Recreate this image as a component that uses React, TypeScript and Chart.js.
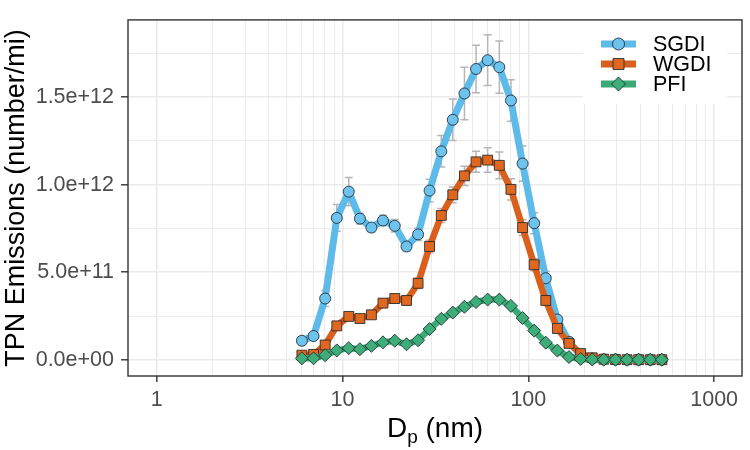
import React, { useEffect, useRef } from 'react';
import { Chart, registerables } from 'chart.js';

Chart.register(...registerables);

// Particle diameter bins (nm)
const diameters = [6.04, 6.98, 8.06, 9.31, 10.8, 12.4, 14.3, 16.5, 19.1, 22.1, 25.5, 29.4, 34.0, 39.2, 45.3, 52.3, 60.4, 69.8, 80.6, 93.1, 107.5, 124.1, 143.3, 165.5, 191.1, 220.7, 254.8, 294.3, 339.8, 392.4, 453.2, 523.3];

const sgdi = [1.09e11, 1.36e11, 3.5e11, 8.1e11, 9.6e11, 8.06e11, 7.55e11, 7.95e11, 7.65e11, 6.47e11, 7.16e11, 9.66e11, 1.19e12, 1.37e12, 1.52e12, 1.66e12, 1.71e12, 1.67e12, 1.48e12, 1.12e12, 7.8e11, 4.66e11, 2.3e11, 1.03e11, 2.6e10, 8e9, 3e9, 2e9, 1e9, 1e9, 1e9, 1e9];
const sgdiErr = [1.5e10, 1.5e10, 4.5e10, 7.6e10, 8e10, 3e10, 2.5e10, 3e10, 3.6e10, 2.5e10, 3.5e10, 6.5e10, 9e10, 1.18e11, 1.5e11, 1.36e11, 1.45e11, 1.49e11, 1.18e11, 1e11, 6e10, 4e10, 2e10, 1e10, 5e9, 0, 0, 0, 0, 0, 0, 0];

const wgdi = [2.7e10, 3.1e10, 8.5e10, 1.94e11, 2.48e11, 2.36e11, 2.57e11, 3.24e11, 3.5e11, 3.39e11, 4.37e11, 6.47e11, 8.24e11, 9.42e11, 1.05e12, 1.13e12, 1.14e12, 1.11e12, 9.73e11, 7.55e11, 5.43e11, 3.39e11, 1.79e11, 9.4e10, 3.6e10, 1.2e10, 4e9, 2e9, 1e9, 1e9, 1e9, 1e9];
const wgdiErr = [1e10, 1e10, 1.5e10, 2e10, 2e10, 2e10, 2e10, 2.5e10, 2.5e10, 2.5e10, 3e10, 3.5e10, 4e10, 4.5e10, 5.5e10, 6e10, 7e10, 7.6e10, 6e10, 4.5e10, 3.5e10, 2.5e10, 1.5e10, 1e10, 5e9, 0, 0, 0, 0, 0, 0, 0];

const pfi = [9e9, 9e9, 2.7e10, 5.4e10, 6.7e10, 6.1e10, 8e10, 1.0e11, 1.09e11, 8.9e10, 1.12e11, 1.76e11, 2.34e11, 2.7e11, 3.03e11, 3.3e11, 3.44e11, 3.44e11, 3.08e11, 2.39e11, 1.67e11, 9.8e10, 5.3e10, 1.6e10, 5e9, 2e9, 1e9, 1e9, 1e9, 1e9, 1e9, 1e9];

const seriesNames = ['SGDI', 'WGDI', 'PFI'];

// Axis ticks
const xTickValues = [1, 2, 3, 4, 5, 6, 7, 8, 9, 10, 20, 30, 40, 50, 60, 70, 80, 90, 100, 200, 300, 400, 500, 600, 700, 800, 900, 1000];
const yTickValues = [0, 2.5e11, 5e11, 7.5e11, 1e12, 1.25e12, 1.5e12, 1.75e12];

const xTitleMain = 'D';
const xTitleSub = 'p';
const xTitleRest = ' (nm)';
const yTitle = 'TPN Emissions (number/mi)';

const FONT = '"Liberation Sans", Arial, Helvetica, sans-serif';
const COLORS = {
  sgdi: '#5EBAE9',
  sgdiPt: '#6CC3EE',
  wgdi: '#DA5F1C',
  wgdiPt: '#E0671F',
  pfi: '#3BAA77',
  pfiPt: '#3DAE79',
  ptBorder: 'rgba(35,40,45,0.85)',
};

const isPow10 = (v: number) => {
  const l = Math.log10(v);
  return Math.abs(l - Math.round(l)) < 1e-9;
};
const isYMajor = (v: number) => Math.abs(v / 5e11 - Math.round(v / 5e11)) < 1e-9;
const fmtSci = (v: number) => {
  if (v === 0) return '0.0e+00';
  const e = Math.floor(Math.log10(v) + 1e-12);
  const m = v / Math.pow(10, e);
  return m.toFixed(1) + 'e+' + String(e).padStart(2, '0');
};

const errorBarPlugin = {
  id: 'errorBars',
  beforeDatasetsDraw(chart: any) {
    const { ctx, chartArea, scales } = chart;
    const x = scales.x;
    const y = scales.y;
    ctx.save();
    ctx.beginPath();
    ctx.rect(chartArea.left, chartArea.top, chartArea.right - chartArea.left, chartArea.bottom - chartArea.top);
    ctx.clip();
    ctx.strokeStyle = '#B5B5B5';
    ctx.lineWidth = 1.5;
    const groups: [number[], number[]][] = [[sgdi, sgdiErr], [wgdi, wgdiErr]];
    groups.forEach(([vals, errs]) => {
      vals.forEach((v, i) => {
        const e = errs[i];
        if (!e) return;
        const px = x.getPixelForValue(diameters[i]);
        const t = y.getPixelForValue(v + e);
        const b = y.getPixelForValue(v - e);
        ctx.beginPath();
        ctx.moveTo(px, t);
        ctx.lineTo(px, b);
        ctx.moveTo(px - 4, t);
        ctx.lineTo(px + 4, t);
        ctx.moveTo(px - 4, b);
        ctx.lineTo(px + 4, b);
        ctx.stroke();
      });
    });
    ctx.restore();
  },
};

const drawMarker = (ctx: CanvasRenderingContext2D, kind: string, cx: number, cy: number, fill: string) => {
  ctx.beginPath();
  if (kind === 'circle') {
    ctx.arc(cx, cy, 6, 0, Math.PI * 2);
  } else if (kind === 'rect') {
    ctx.rect(cx - 5.5, cy - 5.5, 11, 11);
  } else {
    ctx.moveTo(cx, cy - 7);
    ctx.lineTo(cx + 7, cy);
    ctx.lineTo(cx, cy + 7);
    ctx.lineTo(cx - 7, cy);
    ctx.closePath();
  }
  ctx.fillStyle = fill;
  ctx.fill();
  ctx.lineWidth = 1;
  ctx.strokeStyle = COLORS.ptBorder;
  ctx.stroke();
};

const legendPlugin = {
  id: 'insideLegend',
  afterDatasetsDraw(chart: any) {
    const { ctx } = chart;
    ctx.save();
    ctx.fillStyle = '#FFFFFF';
    ctx.fillRect(583, 3, 144, 101);
    const rows = [
      { name: seriesNames[0], line: COLORS.sgdi, fill: COLORS.sgdiPt, kind: 'circle', y: 44 },
      { name: seriesNames[1], line: COLORS.wgdi, fill: COLORS.wgdiPt, kind: 'rect', y: 64 },
      { name: seriesNames[2], line: COLORS.pfi, fill: COLORS.pfiPt, kind: 'diamond', y: 84 },
    ];
    rows.forEach((r) => {
      ctx.strokeStyle = r.line;
      ctx.lineWidth = 7;
      ctx.lineCap = 'butt';
      ctx.beginPath();
      ctx.moveTo(601, r.y);
      ctx.lineTo(636, r.y);
      ctx.stroke();
      drawMarker(ctx, r.kind, 618.5, r.y, r.fill);
      ctx.fillStyle = '#000000';
      ctx.font = `21.5px ${FONT}`;
      ctx.textAlign = 'left';
      ctx.textBaseline = 'middle';
      ctx.fillText(r.name, 653, r.y + 1);
    });
    ctx.restore();
  },
};

const frameAndTitlePlugin = {
  id: 'frameAndTitle',
  afterDraw(chart: any) {
    const { ctx, chartArea } = chart;
    ctx.save();
    ctx.strokeStyle = '#333333';
    ctx.lineWidth = 1.4;
    ctx.strokeRect(chartArea.left, chartArea.top, chartArea.right - chartArea.left, chartArea.bottom - chartArea.top);

    // x-axis title with subscript
    const mainFont = `28px ${FONT}`;
    const subFont = `19px ${FONT}`;
    ctx.fillStyle = '#000000';
    ctx.textBaseline = 'alphabetic';
    ctx.textAlign = 'left';
    ctx.font = mainFont;
    const wD = ctx.measureText(xTitleMain).width;
    const wRest = ctx.measureText(xTitleRest).width;
    ctx.font = subFont;
    const wSub = ctx.measureText(xTitleSub).width;
    const total = wD + wSub + wRest;
    const cx = (chartArea.left + chartArea.right) / 2;
    let sx = cx - total / 2;
    const baseY = 437;
    ctx.font = mainFont;
    ctx.fillText(xTitleMain, sx, baseY);
    sx += wD;
    ctx.font = subFont;
    ctx.fillText(xTitleSub, sx, baseY + 6);
    sx += wSub;
    ctx.font = mainFont;
    ctx.fillText(xTitleRest, sx, baseY);
    ctx.restore();
  },
};

export default function App() {
  const canvasRef = useRef<HTMLCanvasElement | null>(null);

  useEffect(() => {
    const canvas = canvasRef.current;
    if (!canvas) return;
    const mk = (arr: number[]) => arr.map((v, i) => ({ x: diameters[i], y: v }));
    const chart = new Chart(canvas, {
      type: 'line',
      data: {
        datasets: [
          {
            label: seriesNames[0],
            data: mk(sgdi),
            borderColor: COLORS.sgdi,
            borderWidth: 7,
            pointStyle: 'circle',
            pointRadius: 5.5,
            pointBackgroundColor: COLORS.sgdiPt,
            pointBorderColor: COLORS.ptBorder,
            pointBorderWidth: 1,
            tension: 0,
            borderJoinStyle: 'round',
            borderCapStyle: 'round',
            order: 3,
          },
          {
            label: seriesNames[1],
            data: mk(wgdi),
            borderColor: COLORS.wgdi,
            borderWidth: 6.5,
            pointStyle: 'rect',
            pointRadius: 7,
            pointBackgroundColor: COLORS.wgdiPt,
            pointBorderColor: COLORS.ptBorder,
            pointBorderWidth: 1,
            tension: 0,
            borderJoinStyle: 'round',
            borderCapStyle: 'round',
            order: 2,
          },
          {
            label: seriesNames[2],
            data: mk(pfi),
            borderColor: COLORS.pfi,
            borderWidth: 6.5,
            pointStyle: 'rectRot',
            pointRadius: 6.5,
            pointBackgroundColor: COLORS.pfiPt,
            pointBorderColor: COLORS.ptBorder,
            pointBorderWidth: 1,
            tension: 0,
            borderJoinStyle: 'round',
            borderCapStyle: 'round',
            order: 1,
          },
        ],
      },
      options: {
        animation: false,
        responsive: false,
        maintainAspectRatio: false,
        layout: { padding: { top: 2, right: 3, left: 0, bottom: 0 } },
        plugins: {
          legend: { display: false },
          tooltip: { enabled: false },
        },
        scales: {
          x: {
            type: 'logarithmic',
            min: Math.pow(10, -0.15),
            max: Math.pow(10, 3.15),
            afterBuildTicks: (s: any) => {
              s.ticks = xTickValues.map((v) => ({ value: v }));
            },
            afterFit: (s: any) => {
              s.height = 74;
            },
            ticks: {
              autoSkip: false,
              maxRotation: 0,
              minRotation: 0,
              padding: 5,
              color: '#4D4D4D',
              font: { family: FONT, size: 21.5 },
              callback: (v: any) => (isPow10(Number(v)) ? String(Math.round(Number(v))) : ''),
            },
            grid: {
              color: '#EBEBEB',
              lineWidth: (c: any) => (c.tick && isPow10(c.tick.value) ? 1.6 : 1),
              drawTicks: true,
              tickLength: 6,
              tickWidth: 1.4,
              tickColor: (c: any) => (c.tick && isPow10(c.tick.value) ? '#333333' : 'rgba(0,0,0,0)'),
            },
            border: { display: false },
            title: { display: false },
          },
          y: {
            type: 'linear',
            min: -9.2e10,
            max: 1.94e12,
            afterBuildTicks: (s: any) => {
              s.ticks = yTickValues.map((v) => ({ value: v }));
            },
            afterFit: (s: any) => {
              s.width = 128;
            },
            ticks: {
              autoSkip: false,
              padding: 7,
              color: '#4D4D4D',
              font: { family: FONT, size: 21.5 },
              callback: (v: any) => (isYMajor(Number(v)) ? fmtSci(Number(v)) : ''),
            },
            grid: {
              color: '#EBEBEB',
              lineWidth: (c: any) => (c.tick && isYMajor(c.tick.value) ? 1.6 : 1),
              drawTicks: true,
              tickLength: 7,
              tickWidth: 1.4,
              tickColor: (c: any) => (c.tick && isYMajor(c.tick.value) ? '#333333' : 'rgba(0,0,0,0)'),
            },
            border: { display: false },
            title: {
              display: true,
              text: yTitle,
              color: '#000000',
              font: { family: FONT, size: 27 },
              padding: { top: 0, bottom: 0 },
            },
          },
        },
      },
      plugins: [errorBarPlugin, legendPlugin, frameAndTitlePlugin],
    } as any);
    return () => chart.destroy();
  }, []);

  return (
    <div style={{ position: 'fixed', left: 0, top: 0, width: 750, height: 450, background: '#FFFFFF' }}>
      <canvas ref={canvasRef} width={750} height={450} style={{ display: 'block' }} />
    </div>
  );
}
